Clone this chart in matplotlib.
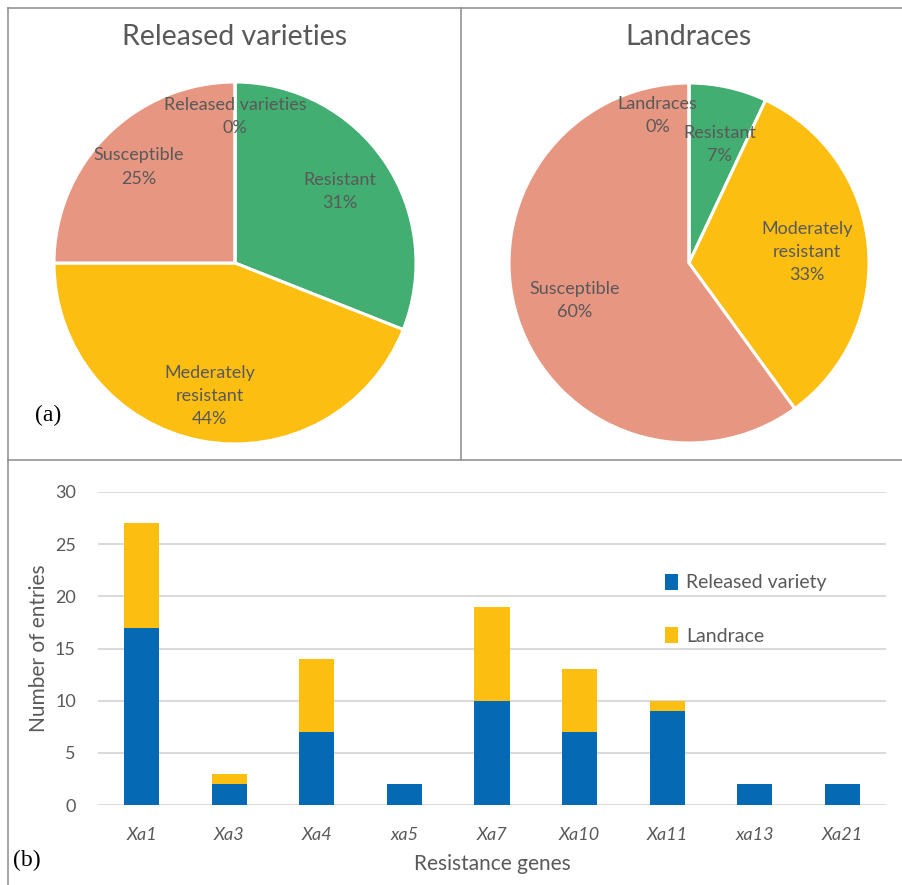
import matplotlib
matplotlib.use('Agg')
import matplotlib.pyplot as plt
import numpy as np
from matplotlib.lines import Line2D

# pie data (a)
pie_labels_rel = ['Resistant', 'Mederately\nresistant', 'Susceptible', 'Released varieties']
pie_vals_rel = [31, 44, 25, 0]
pie_labels_land = ['Resistant', 'Moderately\nresistant', 'Susceptible', 'Landraces']
pie_vals_land = [7, 33, 60, 0]

# bar data (b)
genes = ['Xa1', 'Xa3', 'Xa4', 'xa5', 'Xa7', 'Xa10', 'Xa11', 'xa13', 'Xa21']
released = [17, 2, 7, 2, 10, 7, 9, 2, 2]
landrace = [10, 1, 7, 0, 9, 6, 1, 0, 0]

pie_colors = ['#43AE71', '#FDBE12', '#E79682', '#E79682']
blue = '#0569B3'
yellow = '#FDBE12'
txt = '#595959'

plt.rcParams['font.family'] = ['Lato', 'DejaVu Sans']

W, H = 902, 885
fig = plt.figure(figsize=(W / 100, H / 100), dpi=100)


def px_axes(x0, y0, x1, y1):
    # pixel box (top-left origin) -> figure axes
    return fig.add_axes([x0 / W, 1 - y1 / H, (x1 - x0) / W, (y1 - y0) / H])


def draw_pie(cx, cy, r, vals, labels, title, dists, shifts):
    ax = px_axes(cx - r, cy - r, cx + r, cy + r)
    wedges, _ = ax.pie(vals, colors=pie_colors, startangle=90, counterclock=False,
                       wedgeprops=dict(edgecolor='white', linewidth=2.2))
    ax.set_xlim(-1, 1)
    ax.set_ylim(-1, 1)
    total = sum(vals)
    for w, v, lab, d, s in zip(wedges, vals, labels, dists, shifts):
        ang = np.deg2rad((w.theta1 + w.theta2) / 2 + s)
        ax.text(d * np.cos(ang), d * np.sin(ang), f'{lab}\n{round(100 * v / total)}%',
                ha='center', va='center', fontsize=13, color=txt, linespacing=1.55)
    fig.text(cx / W, 1 - 37 / H, title, ha='center', va='center', fontsize=20.5, color=txt)


draw_pie(235, 263, 181, pie_vals_rel, pie_labels_rel, 'Released varieties',
         [0.70, 0.75, 0.75, 0.81], [0, 0, 0, 0])
draw_pie(689, 263, 180, pie_vals_land, pie_labels_land, 'Landraces',
         [0.68, 0.66, 0.67, 0.84], [-2, 0, 0, 12])

# stacked bars
ax = px_axes(98, 492, 886, 805)
x = np.arange(len(genes))
ax.bar(x, released, width=0.4, color=blue, label='Released variety', zorder=3)
ax.bar(x, landrace, width=0.4, bottom=released, color=yellow, label='Landrace', zorder=3)
ax.set_xlim(-0.5, len(genes) - 0.5)
ax.set_ylim(0, 30)
ax.set_yticks(range(0, 31, 5))
ax.set_xticks(x)
ax.set_xticklabels(genes, style='italic')
ax.tick_params(length=0, labelsize=13, labelcolor=txt)
ax.tick_params(axis='x', pad=16)
ax.tick_params(axis='y', pad=16)
ax.yaxis.grid(True, color='#D9D9D9', linewidth=1.4, zorder=0)
for s in ax.spines.values():
    s.set_visible(False)
ax.set_xlabel('Resistance genes', fontsize=15, color=txt, labelpad=8)
ax.set_ylabel('Number of entries', fontsize=15, color=txt, labelpad=4)
ax.legend(loc='upper left', bbox_to_anchor=(647 / W, 1 - 556 / H), bbox_transform=fig.transFigure,
          frameon=False, fontsize=14, labelcolor=txt, labelspacing=1.85,
          handlelength=0.7, handleheight=0.9, handletextpad=0.4)

# panel letters
fig.text(48 / W, 1 - 415 / H, '(a)', ha='center', va='center', fontsize=17, family='Liberation Serif')
fig.text(27 / W, 1 - 860 / H, '(b)', ha='center', va='center', fontsize=17, family='Liberation Serif')

# panel borders
bc = '#8C8C8C'
for xs, ys in [([8, 8], [8, 885]), ([8, 902], [8, 8]), ([461, 461], [8, 460]), ([8, 902], [460, 460])]:
    fig.add_artist(Line2D([v / W for v in xs], [1 - v / H for v in ys], color=bc, linewidth=1.1))

fig.savefig('out.png', dpi=100)
